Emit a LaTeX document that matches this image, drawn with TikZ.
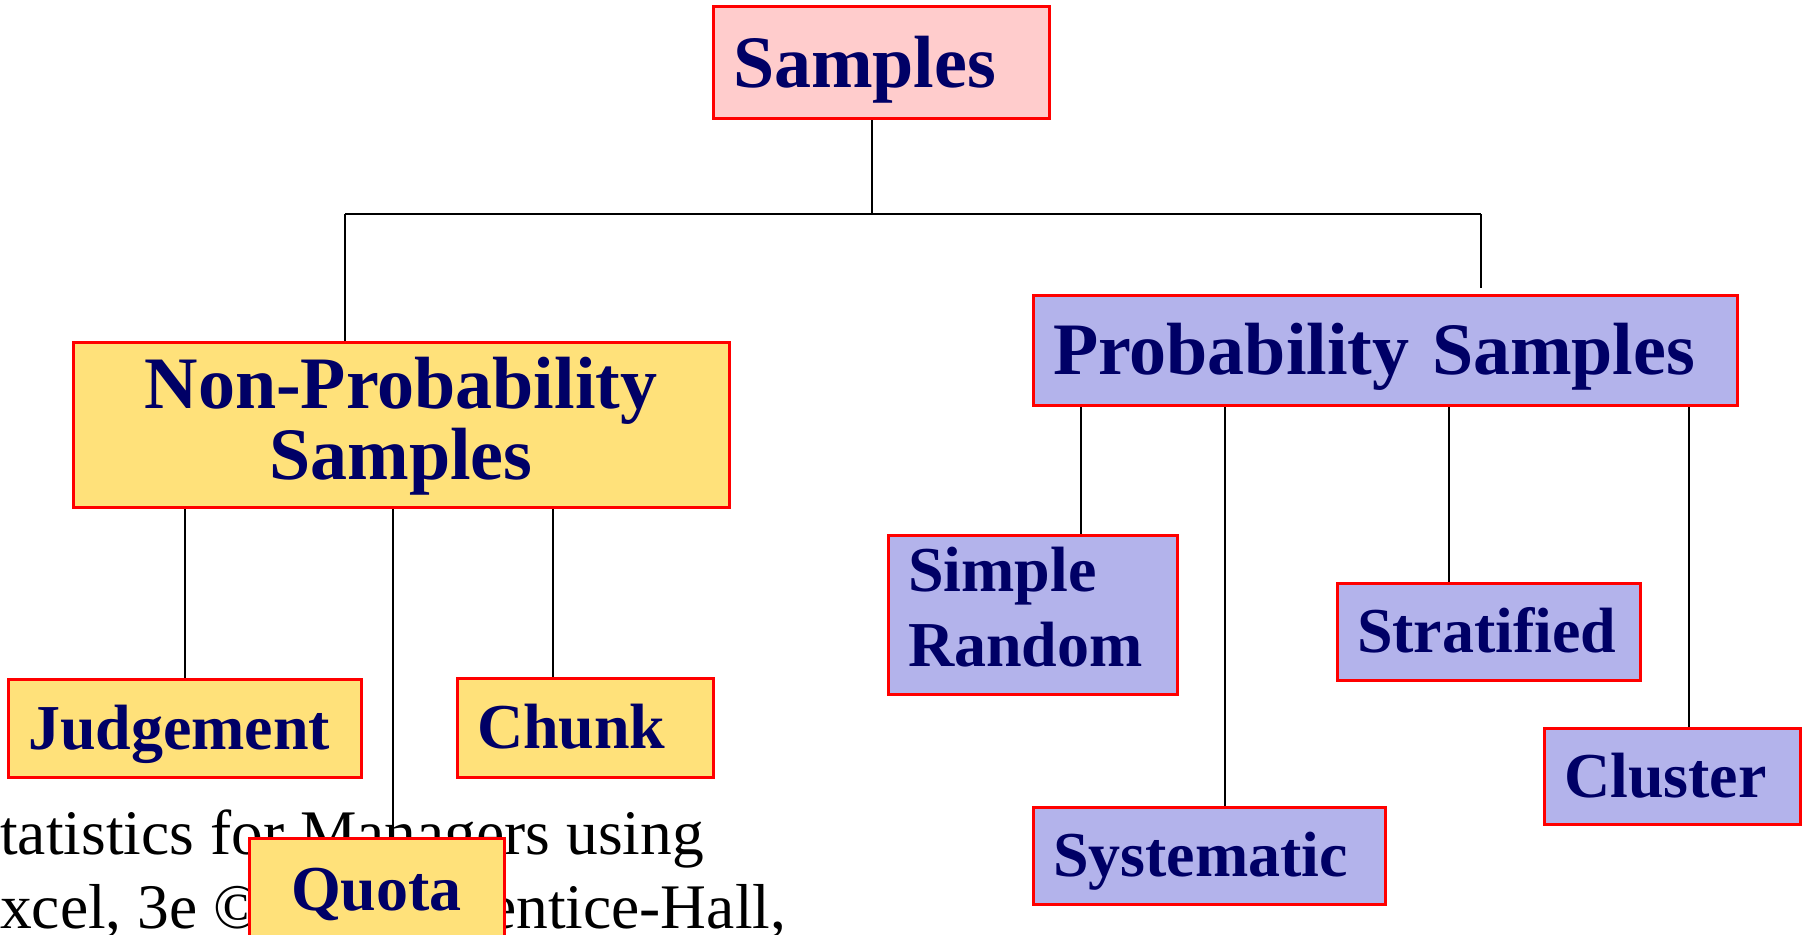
\documentclass[tikz,border=0pt]{standalone}
\usepackage{fontspec}
\setmainfont{Liberation Serif}
\usetikzlibrary{backgrounds}
\definecolor{navytext}{HTML}{000066}
\definecolor{rootfill}{HTML}{FFCCCC}
\definecolor{nonprobfill}{HTML}{FFE17A}
\definecolor{probfill}{HTML}{B3B3EB}
\definecolor{boxline}{HTML}{FF0000}
\tikzset{
  box/.style={draw=boxline, line width=3pt, text=navytext, inner ysep=0pt,
              inner xsep=20pt, text depth=0pt},
  dims/.style 2 args={minimum width=#1, minimum height=#2, text width=#1-40pt},
  bigtext/.style={font=\fontsize{74}{71}\selectfont\bfseries, text height=49pt},
  smalltext/.style={font=\fontsize{64}{75}\selectfont\bfseries, text height=42pt},
  link/.style={line width=2.4pt, draw=black},
  foot/.style={font=\fontsize{63.5}{75}\selectfont, inner sep=0pt, anchor=base west, text=black},
}
\begin{document}
\begin{tikzpicture}[x=1pt, y=-1pt]
\useasboundingbox (0,0) rectangle (1806,934);

% footer text of the slide, partly hidden by the Quota box
\node[foot] (footA) at (0,854) {tatistics for Managers using};
\node[foot] (footB) at (0,928) {xcel, 3e ©};
\node[foot] (footC) at (488,928) {entice-Hall,};

% root
\node[box, bigtext, dims={336pt}{111pt}, align=left, fill=rootfill]
  (root) at (881,62.5) {Samples};

% two main families
\node[box, bigtext, dims={656pt}{165pt}, align=center, fill=nonprobfill, text depth=82pt]
  (np) at (401,424.5) {Non-Probability\\Samples};
\node[box, bigtext, dims={704pt}{110pt}, align=left, fill=probfill]
  (p) at (1385,350) {Probability\hspace{-2pt} Samples};

% non-probability methods
\node[box, smalltext, dims={353pt}{98pt}, align=left, fill=nonprobfill]
  (judg) at (184.5,728) {Judgement};
\node[box, smalltext, dims={256pt}{99pt}, align=left, fill=nonprobfill]
  (chunk) at (585,727.5) {Chunk};
\node[box, smalltext, dims={255pt}{102pt}, align=center, fill=nonprobfill]
  (quota) at (376.5,889) {Quota};

% probability methods
\node[box, smalltext, dims={289pt}{159pt}, align=left, fill=probfill, text depth=88pt]
  (sr) at (1032.5,614.5) {Simple\\Random};
\node[box, smalltext, dims={352pt}{97pt}, align=left, fill=probfill]
  (sys) at (1209,855.5) {Systematic};
\node[box, smalltext, dims={303pt}{97pt}, align=left, fill=probfill]
  (strat) at (1488.5,631.5) {Stratified};
\node[box, smalltext, dims={256pt}{96pt}, align=left, fill=probfill]
  (clus) at (1672,776) {Cluster};

% connector x positions
\coordinate (hub) at (872,214);
\coordinate (lefthub) at (345,214);
\coordinate (righthub) at (1481,214);
\coordinate (pstub) at (1481,288);
\coordinate (xj) at (185,0);
\coordinate (xq) at (393,0);
\coordinate (xc) at (553,0);
\coordinate (xsr) at (1081,0);
\coordinate (xsy) at (1225,0);
\coordinate (xst) at (1449,0);
\coordinate (xcl) at (1689,0);

\begin{scope}[on background layer]
  \draw[link] (root.south -| hub) -- (hub);
  \draw[link] (lefthub) -- (righthub);
  \draw[link] (lefthub) -- (np.north -| lefthub);
  \draw[link] (righthub) -- (pstub);

  \draw[link] (np.south -| xj) -- (judg.north -| xj);
  \draw[link] (np.south -| xq) -- (quota.north -| xq);
  \draw[link] (np.south -| xc) -- (chunk.north -| xc);

  \draw[link] (p.south -| xsr) -- (sr.north -| xsr);
  \draw[link] (p.south -| xsy) -- (sys.north -| xsy);
  \draw[link] (p.south -| xst) -- (strat.north -| xst);
  \draw[link] (p.south -| xcl) -- (clus.north -| xcl);
\end{scope}
\end{tikzpicture}
\end{document}
